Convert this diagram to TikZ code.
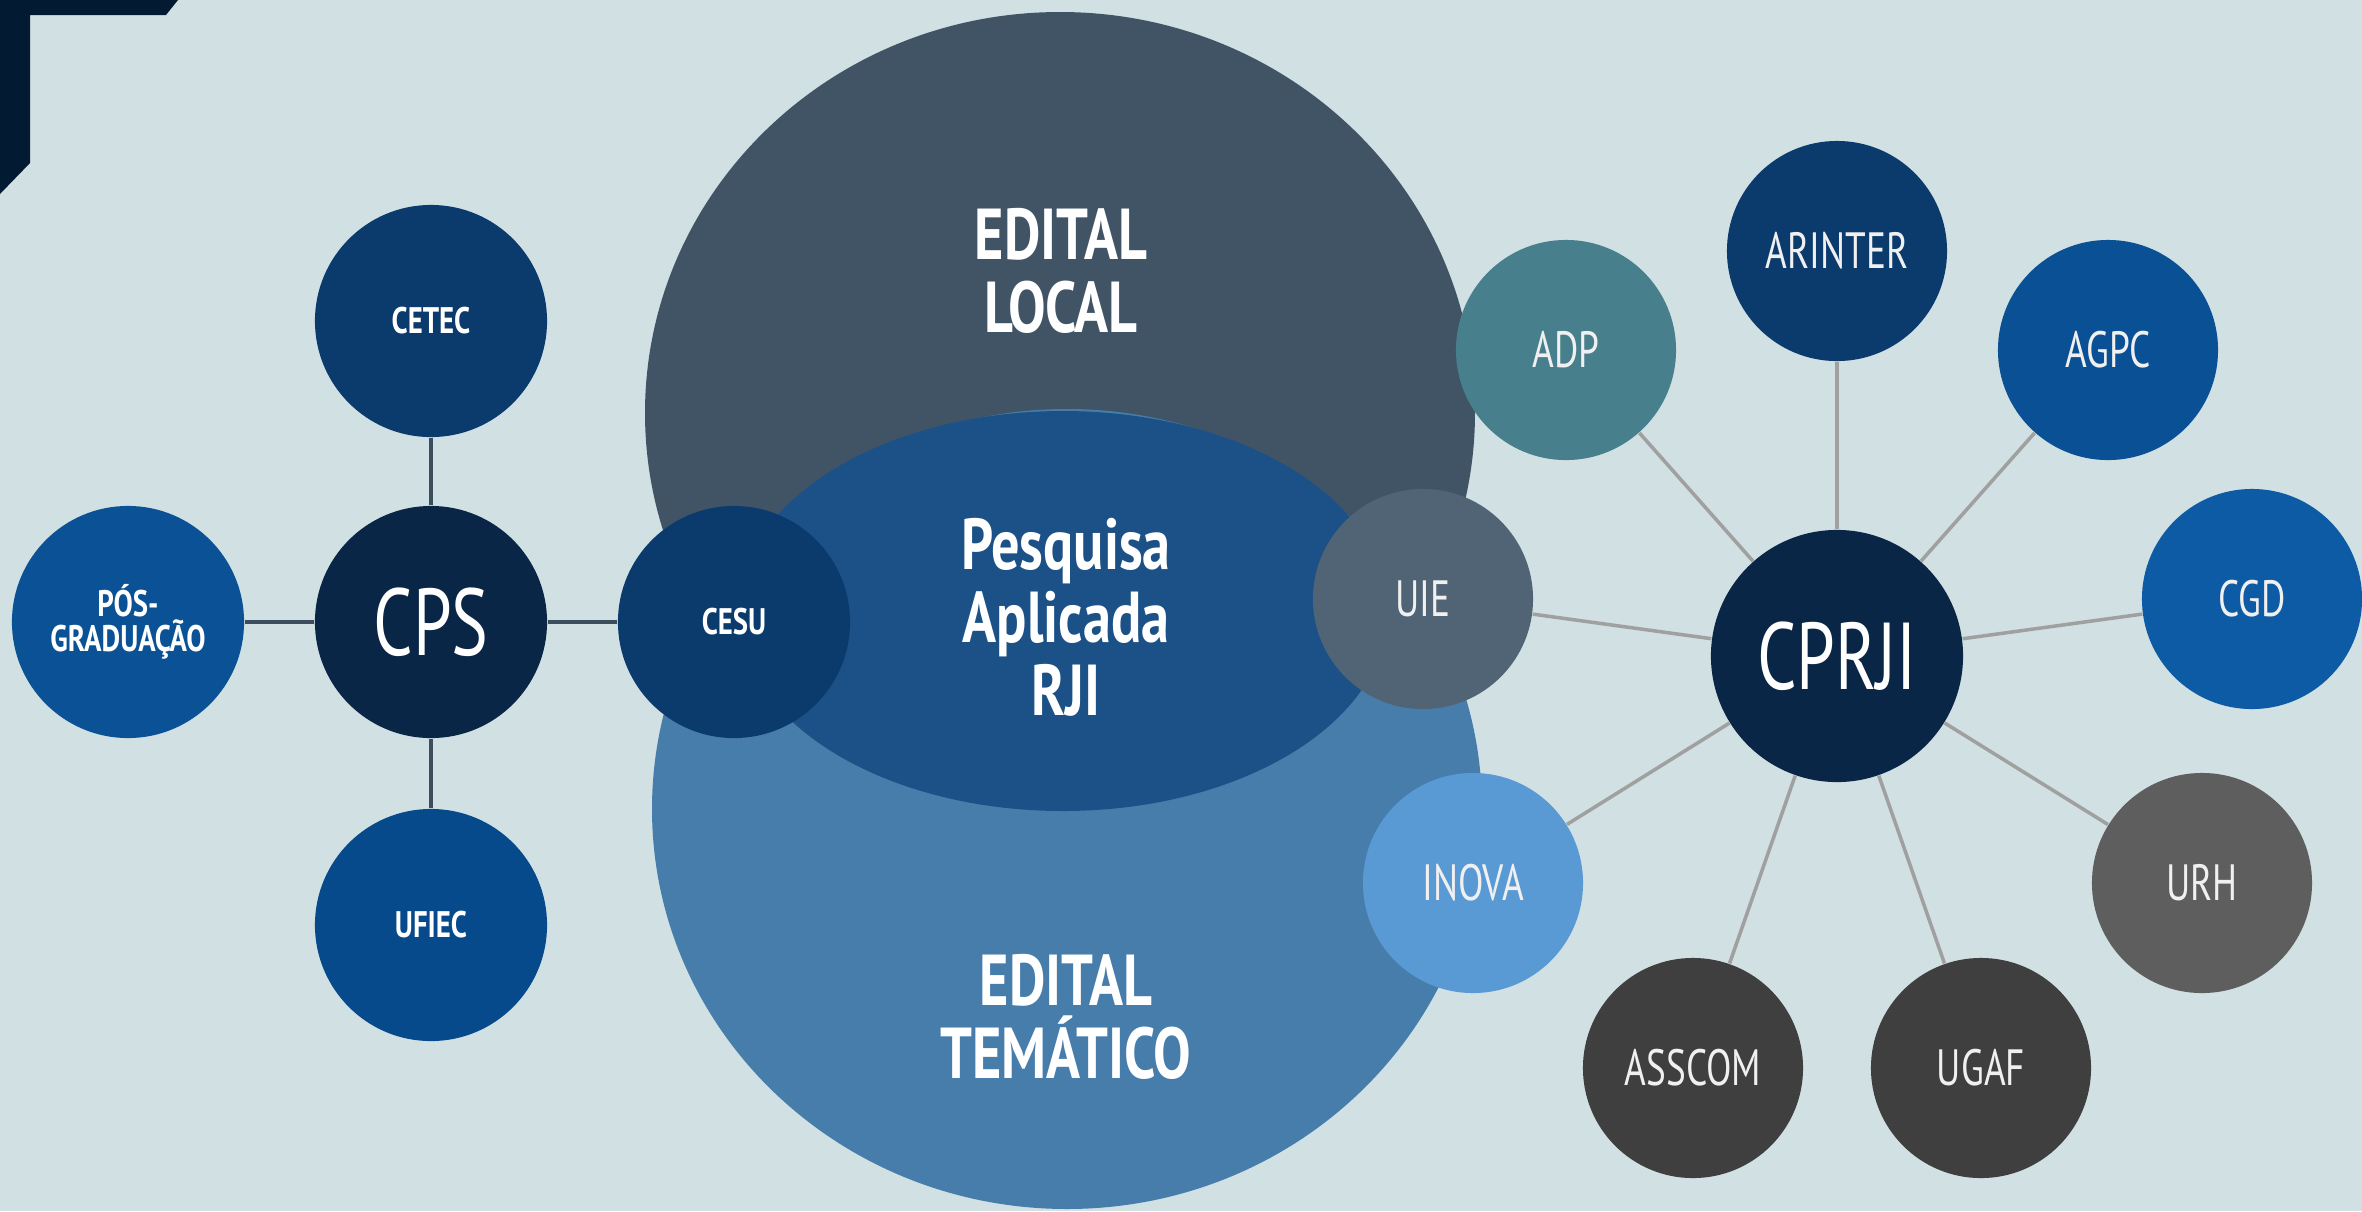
\documentclass[tikz,border=0pt]{standalone}
\usepackage{fontspec}
\setmainfont{PT Sans}[FakeStretch=0.73, BoldFeatures={FakeStretch=0.78}]
\usepackage{tikz}
\usetikzlibrary{calc}
\usepackage{xcolor}
\definecolor{PanelGrey}{HTML}{D1E0E3}
\definecolor{CornerNavy}{HTML}{021B33}
\definecolor{LocalSlate}{HTML}{415466}
\definecolor{TematicoBlue}{HTML}{477DAB}
\definecolor{RjiBlue}{HTML}{1B5186}
\definecolor{DeepNavy}{HTML}{0A2646}
\definecolor{CesuNavy}{HTML}{0B3A6C}
\definecolor{PosBlue}{HTML}{0A5295}
\definecolor{UfiecBlue}{HTML}{074A8C}
\definecolor{AdpTeal}{HTML}{47808C}
\definecolor{AgpcBlue}{HTML}{0A5095}
\definecolor{CgdBlue}{HTML}{0D5BA5}
\definecolor{UieSlate}{HTML}{516475}
\definecolor{InovaBlue}{HTML}{5A9AD4}
\definecolor{UrhGrey}{HTML}{5E5E5E}
\definecolor{DarkGrey}{HTML}{3F3F3F}
\definecolor{LinkSlate}{HTML}{3C4E5E}
\definecolor{LinkGrey}{HTML}{A0A0A0}
\definecolor{SoftWhite}{HTML}{F0F0F0}

\tikzset{
  unit/.style={circle, minimum size=2.32cm, inner sep=0pt, align=center,
    text=white, font=\fontsize{10.5}{9.8}\selectfont\bfseries},
  sector/.style={circle, minimum size=2.2cm, inner sep=0pt, align=center,
    text=SoftWhite, font=\fontsize{14.5}{16}\selectfont},
  hub/.style={circle, inner sep=0pt, text=white, font=\fontsize{27}{30}\selectfont},
  bigtext/.style={align=center, text=white, font=\fontsize{20.5}{20.8}\selectfont\bfseries},
  leftlink/.style={LinkSlate, line width=0.9pt},
  rightlink/.style={LinkGrey, line width=1pt}
}

\begin{document}
\begin{tikzpicture}[x=0.01cm, y=-0.01cm]
    \useasboundingbox (0,0) rectangle (2362,1211);
    \fill[PanelGrey] (0,0) rectangle (2362,1211);
    \fill[CornerNavy] (0,0) -- (178,0) -- (166,15) -- (30,15) -- (30,163) -- (0,194) -- cycle;

    % editais
    \fill[LocalSlate] (1060,413) ellipse [x radius=415, y radius=401];
    \fill[TematicoBlue] (1067,809) ellipse [x radius=415, y radius=400];
    \fill[RjiBlue] (1063,611) ellipse [x radius=325, y radius=200];
    \node[bigtext] (local) at (1061,271) {EDITAL\\LOCAL};
    \node[bigtext] (rji) at (1066,617) {Pesquisa\\Aplicada\\RJI};
    \node[bigtext] (tematico) at (1066,1017) {EDITAL\\TEMÁTICO};

    % CPS
    \node[hub, fill=DeepNavy, minimum size=2.32cm] (cps) at (431,622) {CPS};
    \node[unit, fill=CesuNavy] (cetec) at (431,321) {CETEC};
    \node[unit, fill=PosBlue] (pos) at (128,622) {PÓS-\\GRADUAÇÃO};
    \node[unit, fill=UfiecBlue] (ufiec) at (431,925) {UFIEC};
    \node[unit, fill=CesuNavy] (cesu) at (734,622) {CESU};
    \draw[leftlink] (cetec) -- (cps);
    \draw[leftlink] (pos) -- (cps);
    \draw[leftlink] (ufiec) -- (cps);
    \draw[leftlink] (cps) -- (cesu);

    % CPRJI
    \node[hub, fill=DeepNavy, minimum size=2.52cm] (cprji) at (1837,656) {CPRJI};
    \node[sector, fill=CesuNavy] (arinter) at (1837,251) {ARINTER};
    \node[sector, fill=AdpTeal] (adp) at (1566,350) {ADP};
    \node[sector, fill=AgpcBlue] (agpc) at (2108,350) {AGPC};
    \node[sector, fill=UieSlate] (uie) at (1423,599) {UIE};
    \node[sector, fill=CgdBlue] (cgd) at (2252,599) {CGD};
    \node[sector, fill=InovaBlue] (inova) at (1473,883) {INOVA};
    \node[sector, fill=UrhGrey] (urh) at (2202,883) {URH};
    \node[sector, fill=DarkGrey] (asscom) at (1693,1068) {ASSCOM};
    \node[sector, fill=DarkGrey] (ugaf) at (1981,1068) {UGAF};
    \draw[rightlink] (cprji) -- (arinter);
    \draw[rightlink] (cprji) -- (adp);
    \draw[rightlink] (cprji) -- (agpc);
    \draw[rightlink] (cprji) -- (uie);
    \draw[rightlink] (cprji) -- (cgd);
    \draw[rightlink] (cprji) -- (inova);
    \draw[rightlink] (cprji) -- (urh);
    \draw[rightlink] (cprji) -- (asscom);
    \draw[rightlink] (cprji) -- (ugaf);
\end{tikzpicture}
\end{document}
